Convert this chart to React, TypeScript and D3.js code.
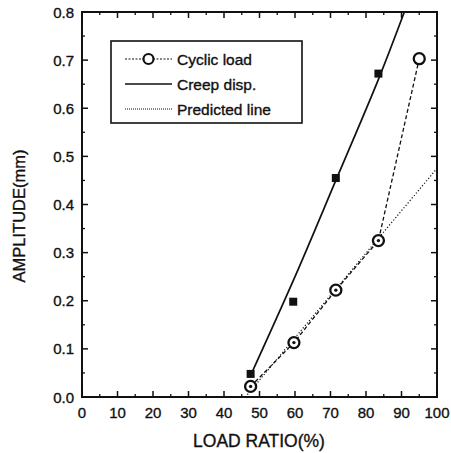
import React from "react";
import * as d3 from "d3";

// Load ratio (%) and measured amplitudes (mm)
const cyclicX = [47.5, 59.7, 71.5, 83.5, 95];
const cyclicY = [0.022, 0.113, 0.222, 0.325, 0.703];
const creepX = [47.5, 59.5, 71.5, 83.5];
const creepY = [0.048, 0.198, 0.455, 0.672];
// Smoothed creep displacement curve
const creepFitX = [47.2, 60, 71.5, 83.5, 90.8];
const creepFitY = [0.04, 0.25, 0.45, 0.66, 0.8];
// Predicted linear trend
const predX = [46, 100];
const predY = [0, 0.475];

const xTicks = [0, 10, 20, 30, 40, 50, 60, 70, 80, 90, 100];
const yTicks = [0, 0.1, 0.2, 0.3, 0.4, 0.5, 0.6, 0.7, 0.8];
const legendLabels = ["Cyclic load", "Creep disp.", "Predicted line"];

const W = 451;
const H = 453;
const m = { left: 82, right: 437, top: 12, bottom: 397 };
const font = "'Liberation Sans', Arial, sans-serif";
const ink = "#111";

export default function App() {
  const x = d3.scaleLinear().domain([0, 100]).range([m.left, m.right]);
  const y = d3.scaleLinear().domain([0, 0.8]).range([m.bottom, m.top]);
  const line = d3
    .line<[number, number]>()
    .x((d) => x(d[0]))
    .y((d) => y(d[1]));
  const curve = d3
    .line<[number, number]>()
    .x((d) => x(d[0]))
    .y((d) => y(d[1]))
    .curve(d3.curveCatmullRom);

  const cyc: [number, number][] = cyclicX.map((v, i) => [v, cyclicY[i]]);
  const creep: [number, number][] = creepX.map((v, i) => [v, creepY[i]]);
  const creepFit: [number, number][] = creepFitX.map((v, i) => [v, creepFitY[i]]);
  const pred: [number, number][] = predX.map((v, i) => [v, predY[i]]);

  const xMinor = d3.range(5, 100, 10);
  const yMinor = d3.range(0.05, 0.8, 0.1);

  const lx = 111, ly = 41, lw = 191, lh = 82;
  const rows = [59, 84, 109];
  const textStyle = { fontFamily: font, fill: ink, stroke: ink, strokeWidth: 0.35 };

  return (
    <svg width={W} height={H} style={{ position: "absolute", left: 0, top: 0, background: "#fff" }}>
      <defs>
        <clipPath id="plot">
          <rect x={m.left} y={m.top} width={m.right - m.left} height={m.bottom - m.top} />
        </clipPath>
      </defs>
      <g clipPath="url(#plot)">
        <path d={line(pred) || ""} fill="none" stroke={ink} strokeWidth={1.2} strokeDasharray="1.2 2" />
        <path d={line(cyc) || ""} fill="none" stroke={ink} strokeWidth={1.3} strokeDasharray="4 2.5" />
        <path d={curve(creepFit) || ""} fill="none" stroke={ink} strokeWidth={1.7} />
      </g>
      {creep.map((d, i) => (
        <rect key={"s" + i} x={x(d[0]) - 4} y={y(d[1]) - 4} width={8} height={8} fill={ink} />
      ))}
      {cyc.map((d, i) => (
        <g key={"c" + i}>
          <circle cx={x(d[0])} cy={y(d[1])} r={5.5} fill="#fff" stroke={ink} strokeWidth={2.3} />
          {i < cyc.length - 1 && <circle cx={x(d[0])} cy={y(d[1])} r={1.7} fill={ink} />}
        </g>
      ))}

      {/* frame */}
      <rect x={m.left} y={m.top} width={m.right - m.left} height={m.bottom - m.top} fill="none" stroke={ink} strokeWidth={2} />

      {/* ticks */}
      {xTicks.map((t) => (
        <g key={"xt" + t}>
          <line x1={x(t)} x2={x(t)} y1={m.bottom} y2={m.bottom - 6} stroke={ink} strokeWidth={1.5} />
          <line x1={x(t)} x2={x(t)} y1={m.top} y2={m.top + 6} stroke={ink} strokeWidth={1.5} />
          <text x={x(t)} y={m.bottom + 21} textAnchor="middle" fontSize={15} {...textStyle}>
            {t}
          </text>
        </g>
      ))}
      {xMinor.map((t) => (
        <g key={"xm" + t}>
          <line x1={x(t)} x2={x(t)} y1={m.bottom} y2={m.bottom - 3} stroke={ink} strokeWidth={1.3} />
          <line x1={x(t)} x2={x(t)} y1={m.top} y2={m.top + 3} stroke={ink} strokeWidth={1.3} />
        </g>
      ))}
      {yTicks.map((t) => (
        <g key={"yt" + t}>
          <line x1={m.left} x2={m.left + 6} y1={y(t)} y2={y(t)} stroke={ink} strokeWidth={1.5} />
          <line x1={m.right} x2={m.right - 6} y1={y(t)} y2={y(t)} stroke={ink} strokeWidth={1.5} />
          <text x={m.left - 8} y={y(t) + 5.5} textAnchor="end" fontSize={15} {...textStyle}>
            {t.toFixed(1)}
          </text>
        </g>
      ))}
      {yMinor.map((t) => (
        <g key={"ym" + t}>
          <line x1={m.left} x2={m.left + 3} y1={y(t)} y2={y(t)} stroke={ink} strokeWidth={1.3} />
          <line x1={m.right} x2={m.right - 3} y1={y(t)} y2={y(t)} stroke={ink} strokeWidth={1.3} />
        </g>
      ))}

      {/* axis titles */}
      <text x={259} y={447} textAnchor="middle" fontSize={17.5} {...textStyle}>
        LOAD RATIO(%)
      </text>
      <text
        transform={`translate(25,216) rotate(-90)`}
        textAnchor="middle"
        fontSize={16.5}
        {...textStyle}
      >
        AMPLITUDE(mm)
      </text>

      {/* legend */}
      <rect x={lx} y={ly} width={lw} height={lh} fill="#fff" stroke={ink} strokeWidth={1.6} />
      <line x1={125} x2={172} y1={rows[0]} y2={rows[0]} stroke={ink} strokeWidth={1.2} strokeDasharray="2 1.5" />
      <circle cx={148.5} cy={rows[0]} r={5} fill="#fff" stroke={ink} strokeWidth={2.2} />
      <line x1={125} x2={172} y1={rows[1]} y2={rows[1]} stroke={ink} strokeWidth={1.7} />
      <line x1={125} x2={172} y1={rows[2]} y2={rows[2]} stroke={ink} strokeWidth={1} strokeDasharray="1 1" />
      {legendLabels.map((l, i) => (
        <text key={l} x={177} y={rows[i] + 6} fontSize={15.5} {...textStyle}>
          {l}
        </text>
      ))}
    </svg>
  );
}
